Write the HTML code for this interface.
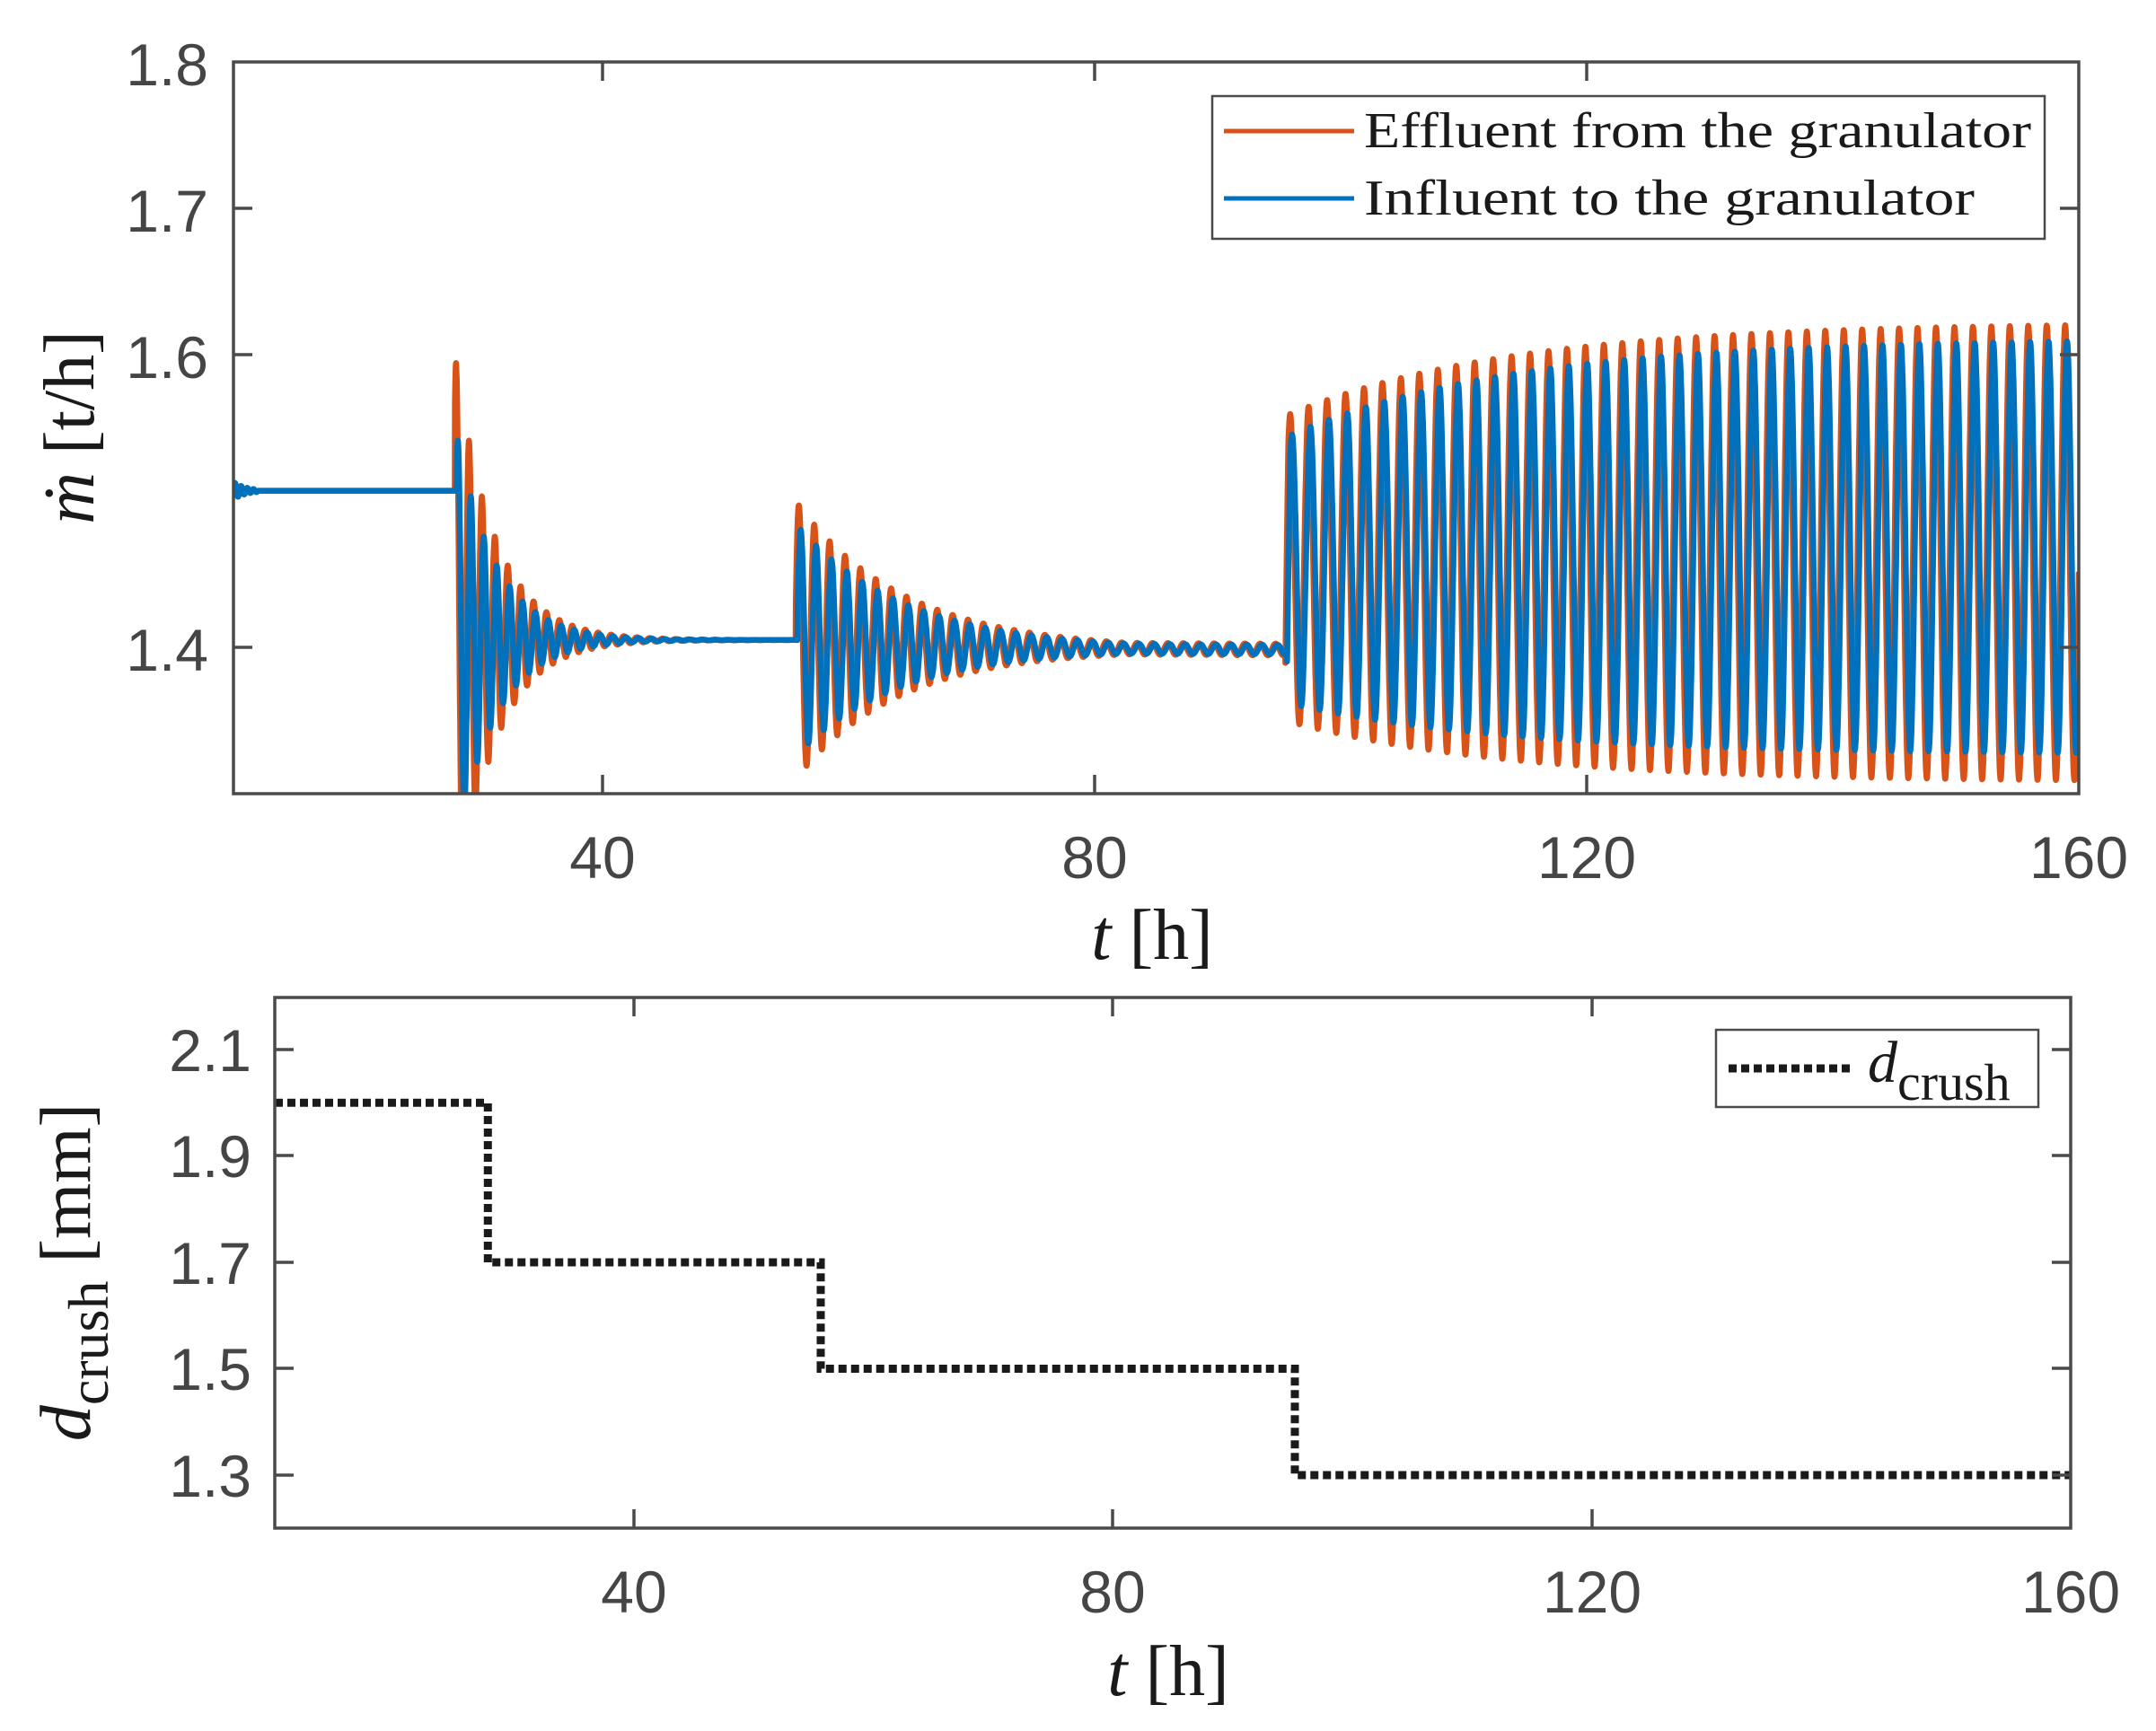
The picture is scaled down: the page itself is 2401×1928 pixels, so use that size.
<!DOCTYPE html>
<html><head><meta charset="utf-8"><style>
html,body{margin:0;padding:0;background:#fff;}
svg{display:block;}
.tk{font-family:"Liberation Sans",sans-serif;font-size:66px;fill:#454545;}
.sr{font-family:"Liberation Serif",serif;fill:#1a1a1a;}
</style></head><body>
<svg id="s" width="2401" height="1928" viewBox="0 0 2401 1928" xmlns="http://www.w3.org/2000/svg">
<defs>
<clipPath id="c1"><rect x="260" y="69" width="2055" height="815"/></clipPath>
</defs>
<rect width="2401" height="1928" fill="#fff"/>
<g clip-path="url(#c1)">
<path id="po" fill="none" stroke="#D95319" stroke-width="6.5" stroke-linejoin="round"/>
<path id="pb" fill="none" stroke="#0072BD" stroke-width="6.5" stroke-linejoin="round"/>
</g>
<g stroke="#4a4a4a" stroke-width="3.5" fill="none">
<rect x="260" y="69" width="2055" height="815"/>
<path d="M671 884v-21M1219 884v-21M1767 884v-21M671 69v21M1219 69v21M1767 69v21M260 232h21M260 395h21M260 721h21M2315 232h-21M2315 395h-21M2315 721h-21"/>
</g>
<g class="tk">
<text x="232" y="95" text-anchor="end">1.8</text>
<text x="232" y="258" text-anchor="end">1.7</text>
<text x="232" y="421" text-anchor="end">1.6</text>
<text x="232" y="747" text-anchor="end">1.4</text>
<text x="671" y="978" text-anchor="middle">40</text>
<text x="1219" y="978" text-anchor="middle">80</text>
<text x="1767" y="978" text-anchor="middle">120</text>
<text x="2315" y="978" text-anchor="middle">160</text>
</g>
<text class="sr" x="1283" y="1068" font-size="80" text-anchor="middle"><tspan font-style="italic">t</tspan> [h]</text>
<text class="sr" transform="translate(104,476) rotate(-90)" font-size="80" text-anchor="middle"><tspan font-style="italic">ṁ</tspan> [t/h]</text>
<rect x="1350" y="107" width="927" height="159" fill="#fff" stroke="#4a4a4a" stroke-width="2.5"/>
<path d="M1363 146H1508" stroke="#D95319" stroke-width="5"/>
<path d="M1363 221H1508" stroke="#0072BD" stroke-width="5"/>
<text class="sr" x="1519" y="164" font-size="56" textLength="743" lengthAdjust="spacingAndGlyphs">Effluent from the granulator</text>
<text class="sr" x="1519" y="239" font-size="56" textLength="680" lengthAdjust="spacingAndGlyphs">Influent to the granulator</text>

<path id="pd" fill="none" stroke="#1a1a1a" stroke-width="9" stroke-dasharray="9 5"/>
<g stroke="#4a4a4a" stroke-width="3.5" fill="none">
<rect x="306" y="1111" width="2000" height="591"/>
<path d="M706 1702v-21M1239 1702v-21M1773 1702v-21M706 1111v21M1239 1111v21M1773 1111v21M306 1169h21M306 1287h21M306 1406h21M306 1524h21M306 1643h21M2306 1169h-21M2306 1287h-21M2306 1406h-21M2306 1524h-21M2306 1643h-21"/>
</g>
<g class="tk">
<text x="280" y="1193" text-anchor="end">2.1</text>
<text x="280" y="1311" text-anchor="end">1.9</text>
<text x="280" y="1430" text-anchor="end">1.7</text>
<text x="280" y="1548" text-anchor="end">1.5</text>
<text x="280" y="1667" text-anchor="end">1.3</text>
<text x="706" y="1796" text-anchor="middle">40</text>
<text x="1239" y="1796" text-anchor="middle">80</text>
<text x="1773" y="1796" text-anchor="middle">120</text>
<text x="2306" y="1796" text-anchor="middle">160</text>
</g>
<text class="sr" x="1301" y="1888" font-size="80" text-anchor="middle"><tspan font-style="italic">t</tspan> [h]</text>
<text class="sr" transform="translate(100,1417) rotate(-90)" font-size="80" text-anchor="middle"><tspan font-style="italic">d</tspan><tspan font-size="64" dy="20">crush</tspan><tspan dy="-20"> [mm]</tspan></text>
<rect x="1911" y="1147" width="359" height="86" fill="#fff" stroke="#4a4a4a" stroke-width="2.5"/>
<path d="M1925 1190H2063" stroke="#1a1a1a" stroke-width="9" stroke-dasharray="9 5"/>
<text class="sr" x="2080" y="1205" font-size="66"><tspan font-style="italic">d</tspan><tspan font-size="58" dy="20">crush</tspan></text>
</svg>
<script>
(function(){
function X(t){return 260+(t-10)*13.7;}
function Y(v){return 69+(1.8-v)*1630;}
function f(t,blue){
  var lag=blue?0.15:0, k=blue?0.82:1;
  if(t<28){
    var s=t-10; return 1.507+(s<2?0.006*Math.exp(-s)*Math.sin(2*Math.PI*s/0.5):0);
  }
  if(t<55.7){
    var s=t-28-lag; if(s<0) return 1.507;
    var w=2*Math.PI/1.05;
    var kk=blue?0.72:1;
    return 1.405+kk*0.195*Math.exp(-s/3.2)*Math.cos(w*(s-0.1));
  }
  if(t<95.5){
    var s=t-55.7-lag; var base=1.405-0.007*(1-Math.exp(-(t-55.7)/15));
    if(s<0) return 1.405;
    var w=2*Math.PI/1.25;
    var a=Math.max(0.095*Math.exp(-s/8.5),0.004);
    return base+k*a*Math.sin(w*(s+0.05));
  }
  var s=t-95.5-lag; if(s<0) return 1.398;
  var w=2*Math.PI/1.5;
  var g=1-Math.exp(-s/18);
  var c=(blue?1.453:1.454)+(blue?0.016:0.011)*g;
  var a=blue?(0.091+0.051*g):(0.104+0.053*g);
  var r=Math.min(s/0.25,1);
  return 1.398+(c-1.398)*r+a*Math.sin(w*(s-0.02));
}
function build(blue){
  var d="",dt=0.015;
  for(var t=10;t<=160.0001;t+=dt){
    d+=(d?"L":"M")+X(t).toFixed(1)+" "+Y(f(t,blue)).toFixed(1);
  }
  return d;
}
document.getElementById("po").setAttribute("d",build(false));
document.getElementById("pb").setAttribute("d",build(true));
function X2(t){return 306+(t-10)*13.333;}
function Y2(v){return 1169+(2.1-v)*592.5;}
var steps=[[10,2.0],[27.8,1.7],[55.6,1.5],[95.2,1.3],[160,1.3]];
var d="M"+X2(10)+" "+Y2(2.0);
for(var i=1;i<steps.length;i++){
  d+="H"+X2(steps[i][0]).toFixed(1)+"V"+Y2(steps[i][1]).toFixed(1);
}
document.getElementById("pd").setAttribute("d",d);
})();
</script>
</body></html>
